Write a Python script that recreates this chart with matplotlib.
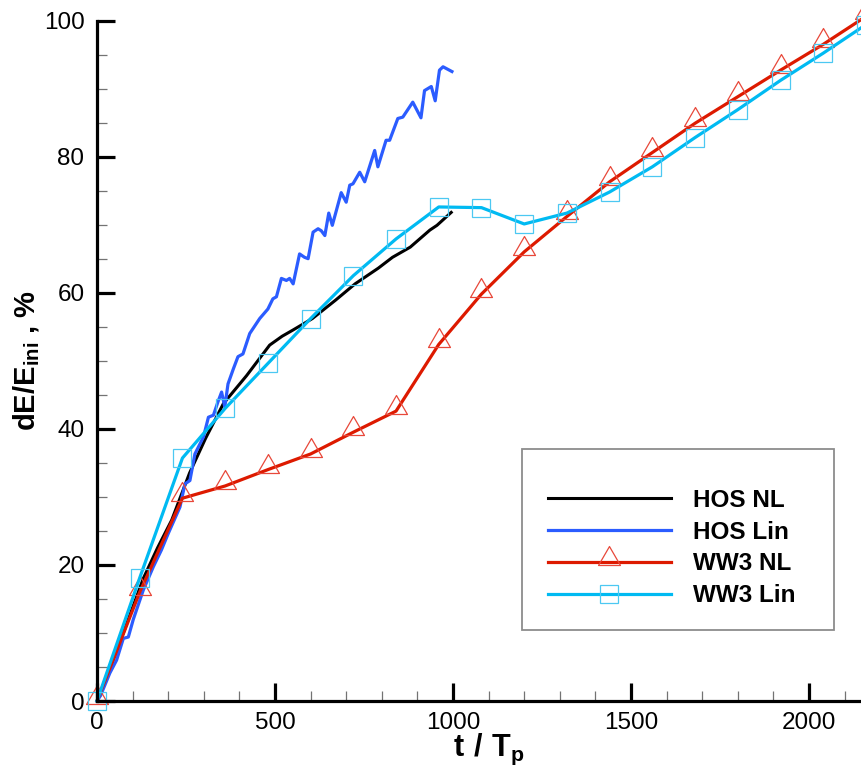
"""Energy change dE/E_ini (%) vs t/Tp for HOS and WW3 runs, linear and nonlinear."""

import matplotlib
matplotlib.use("Agg")
import matplotlib.pyplot as plt
from matplotlib.patches import Rectangle
from matplotlib.path import Path
from matplotlib.ticker import MultipleLocator

# --- data ----------------------------------------------------------------
hos_nl_t = [0, 30, 60, 95, 130, 170, 210, 260, 305, 355, 420, 485, 520, 550,
            605, 670, 725, 790, 830, 880, 935, 955, 995]
hos_nl_v = [0, 4, 8, 13, 18, 22.5, 26.6, 33.5, 38.6, 43.7, 47.8, 52.3, 53.6, 54.5,
            56.2, 58.9, 61.3, 63.6, 65.2, 66.7, 69.2, 69.9, 71.8]

hos_lin_t = [0, 10, 36, 55, 74, 88, 102, 130, 158, 181, 200, 233, 247, 261, 275,
             299, 313, 327, 340, 350, 359, 368, 383, 396, 410, 429, 457, 480, 494,
             504, 518, 532, 541, 551, 569, 583, 593, 607, 621, 630, 640, 651, 661,
             686, 700, 710, 719, 738, 752, 780, 789, 812, 822, 845, 859, 887, 910,
             920, 939, 950, 962, 972, 997]
hos_lin_v = [0, 0.8, 4.1, 6.0, 9.2, 9.4, 12.0, 16.3, 19.7, 22.2, 24.6, 28.5, 31.9,
             32.4, 36.3, 38.8, 41.7, 42.0, 44.0, 45.4, 43.2, 46.6, 48.8, 50.6, 51.0,
             54.0, 56.2, 57.6, 59.1, 59.4, 62.1, 61.8, 62.1, 61.3, 65.7, 65.2, 65.0,
             68.9, 69.4, 69.1, 68.4, 71.7, 69.9, 74.7, 73.3, 75.8, 76.0, 77.7, 76.3,
             80.9, 78.5, 82.4, 82.4, 85.6, 85.8, 88.0, 85.7, 89.7, 90.3, 88.2, 92.7,
             93.2, 92.5]

ww3_t = [0, 120, 240, 360, 480, 600, 720, 840, 960, 1080, 1200, 1320, 1440,
         1560, 1680, 1800, 1920, 2040, 2160]
ww3_nl_v = [0, 16.0, 29.8, 31.6, 34.0, 36.3, 39.5, 42.6, 52.4, 59.8, 66.0, 71.2,
            76.3, 80.6, 84.9, 88.8, 92.7, 96.5, 100.6]
ww3_lin_v = [0, 18.1, 35.7, 43.0, 49.6, 56.2, 62.5, 67.9, 72.6, 72.5, 70.1, 71.7,
             74.8, 78.5, 82.8, 86.9, 91.2, 95.2, 99.4]

labels = ["HOS NL", "HOS Lin", "WW3 NL", "WW3 Lin"]

# Tecplot-style triangle: the data point sits just above the base
TRIANGLE = Path([(0, 16), (-11, -3), (11, -3), (0, 16)], closed=True)

plt.rcParams["font.family"] = ["Liberation Sans", "DejaVu Sans"]
plt.rcParams["mathtext.fontset"] = "custom"
plt.rcParams["mathtext.rm"] = "Liberation Sans"
plt.rcParams["mathtext.bf"] = "Liberation Sans:bold"

W, H = 861, 774
fig = plt.figure(figsize=(W / 100, H / 100), dpi=100)
# axes runs past the right edge of the picture, like the reference crop
ax = fig.add_axes([97 / W, 73 / H, 2200 * 0.356 / W, 680.5 / H])

lw = 2.3
ax.plot(hos_nl_t, hos_nl_v, color="black", lw=2.2, label=labels[0], clip_on=False)
ax.plot(hos_lin_t, hos_lin_v, color="#2b5cff", lw=lw, label=labels[1], clip_on=False)
ax.plot(ww3_t, ww3_nl_v, color="#dd1a00", lw=lw, marker=TRIANGLE, ms=23,
        mfc="none", mec="#e8483a", mew=0.9, label=labels[2], clip_on=False)
ax.plot(ww3_t, ww3_lin_v, color="#00baf2", lw=lw, marker="s", ms=13,
        mfc="none", mec="#4cc8f2", mew=0.9, label=labels[3], clip_on=False)

ax.set_xlim(0, 2200)
ax.set_ylim(0, 100)
ax.xaxis.set_major_locator(MultipleLocator(500))
ax.xaxis.set_minor_locator(MultipleLocator(100))
ax.yaxis.set_major_locator(MultipleLocator(20))
ax.yaxis.set_minor_locator(MultipleLocator(5))

for side in ("top", "right"):
    ax.spines[side].set_visible(False)
for side in ("left", "bottom"):
    ax.spines[side].set_linewidth(2.3)

ax.tick_params(which="major", direction="in", length=13, width=2.3,
               labelsize=17.5, pad=9)
ax.tick_params(which="minor", direction="in", length=7, width=0.9, color="0.45")
ax.tick_params(axis="x", which="major", pad=8)

ax.set_xlabel(r"$\mathbf{t\ /\ T_p}$", fontsize=22, labelpad=-2)
ax.set_ylabel(r"$\mathbf{dE/E_{ini}}$ , %", fontsize=21, fontweight="bold",
              labelpad=1)

# legend box drawn separately so the padding can match the reference
fig.patches.append(Rectangle((522 / W, 1 - 630 / H), 312 / W, 181 / H,
                             transform=fig.transFigure, fill=False,
                             edgecolor="0.55", lw=1.3))
fig.legend(loc="upper left", bbox_to_anchor=(548 / W, 1 - 489 / H),
           frameon=False, borderpad=0, borderaxespad=0, numpoints=1,
           handlelength=5.06, handletextpad=0.9, labelspacing=0.36,
           prop={"weight": "bold", "size": 17.5})

fig.savefig("out.png", dpi=100)
